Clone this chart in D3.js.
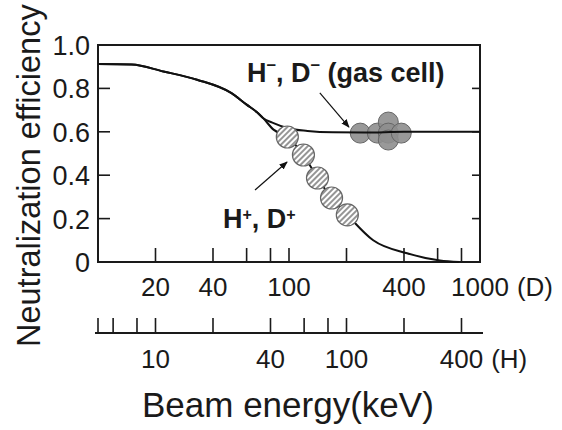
<!DOCTYPE html>
<html><head><meta charset="utf-8">
<script src="https://cdn.jsdelivr.net/npm/d3@7"></script>
<style>
body{margin:0;background:#fff;}
svg{display:block;font-family:"Liberation Sans",Arial,Helvetica,sans-serif;}
</style>
</head><body>
<svg id="c" width="562" height="430"></svg>
<script>
// ---- data ----
const yTicks = [0, 0.2, 0.4, 0.6, 0.8, 1.0];
const yTickLabels = ["0", "0.2", "0.4", "0.6", "0.8", "1.0"];
const dTicks = [20, 40, 60, 80, 100, 200, 400, 600, 800, 1000];
const dLabelValues = [20, 40, 100, 400, 1000];
const dLabels = ["20", "40", "100", "400", "1000"];
const hTicks = [5, 6, 8, 10, 20, 40, 60, 80, 100, 200, 400];
const hLabelValues = [10, 40, 100, 400];
const hLabels = ["10", "40", "100", "400"];

// curves (D energy, keV ; efficiency)
const negEnergy = [10, 15, 22, 33, 50, 60, 68, 73, 83, 100, 125, 170, 250, 400, 1000];
const negEff    = [0.912, 0.91, 0.878, 0.84, 0.778, 0.725, 0.69, 0.664, 0.64, 0.615, 0.604, 0.598, 0.597, 0.6, 0.6];
const posEnergy = [10, 15, 22, 33, 50, 60, 68, 73, 83, 98, 119, 141, 167, 202, 276, 415, 617, 780];
const posEff    = [0.912, 0.91, 0.878, 0.84, 0.778, 0.725, 0.69, 0.664, 0.61, 0.576, 0.493, 0.387, 0.295, 0.217, 0.1, 0.04, 0.007, 0];

// measured points
const gasEnergy = [236, 290, 331, 331, 331, 387];
const gasEff    = [0.594, 0.594, 0.645, 0.594, 0.562, 0.594];
const posPtEnergy = [98, 119, 141, 167, 202];
const posPtEff    = [0.576, 0.493, 0.387, 0.295, 0.217];

// ---- layout ----
const svg = d3.select("#c");
const L = 98, R = 480, T = 45, B = 262, HY = 333;
const x = d3.scaleLog().domain([10, 1000]).range([L, R]);
const xh = d3.scaleLog().domain([5, 500]).range([L, R]);
const y = d3.scaleLinear().domain([0, 1]).range([B, T]);
const ink = "#1a1a1a";

const defs = svg.append("defs");
const pat = defs.append("pattern").attr("id", "hatch").attr("patternUnits", "userSpaceOnUse")
  .attr("width", 4).attr("height", 4).attr("patternTransform", "rotate(45)");
pat.append("rect").attr("width", 4).attr("height", 4).attr("fill", "#fff");
pat.append("line").attr("x1", 1).attr("y1", 0).attr("x2", 1).attr("y2", 4)
  .attr("stroke", "#8a8a8a").attr("stroke-width", 1.8);
defs.append("marker").attr("id", "arr").attr("viewBox", "0 0 10 10").attr("refX", 9).attr("refY", 5)
  .attr("markerWidth", 7).attr("markerHeight", 7).attr("orient", "auto")
  .append("path").attr("d", "M0,1 L10,5 L0,9 Z").attr("fill", "#111");

// frame
svg.append("rect").attr("x", L).attr("y", T).attr("width", R - L).attr("height", B - T)
  .attr("fill", "none").attr("stroke", ink).attr("stroke-width", 2);

// y ticks
svg.append("g").selectAll("line").data(yTicks.slice(1, -1)).join("line")
  .attr("x1", L).attr("x2", L + 12).attr("y1", d => y(d)).attr("y2", d => y(d))
  .attr("stroke", ink).attr("stroke-width", 1.6);
svg.append("g").selectAll("line").data(yTicks.slice(1, -1)).join("line")
  .attr("x1", R).attr("x2", R - 8).attr("y1", d => y(d)).attr("y2", d => y(d))
  .attr("stroke", ink).attr("stroke-width", 1.6);
svg.append("g").selectAll("text").data(yTicks).join("text")
  .attr("x", 90).attr("y", d => y(d) + 10).attr("text-anchor", "end")
  .attr("font-size", 27).attr("fill", ink).text((d, i) => yTickLabels[i]);

// D axis ticks (inside, at bottom)
svg.append("g").selectAll("line").data(dTicks).join("line")
  .attr("x1", d => x(d)).attr("x2", d => x(d)).attr("y1", B).attr("y2", B - 14)
  .attr("stroke", ink).attr("stroke-width", 1.6);
const dl = svg.append("g").selectAll("text").data(dLabelValues).join("text")
  .attr("x", d => x(d)).attr("y", 296).attr("text-anchor", "middle")
  .attr("font-size", 26).attr("fill", ink).text((d, i) => dLabels[i]);
const lastD = dl.filter(d => d === 1000).node().getBBox();
svg.append("text").attr("x", lastD.x + lastD.width + 8).attr("y", 296)
  .attr("font-size", 26).attr("fill", ink).text("(D)");

// H axis
svg.append("line").attr("x1", xh(5) - 3).attr("x2", xh(500) + 3).attr("y1", HY).attr("y2", HY)
  .attr("stroke", ink).attr("stroke-width", 2);
svg.append("g").selectAll("line").data(hTicks).join("line")
  .attr("x1", d => xh(d)).attr("x2", d => xh(d)).attr("y1", HY).attr("y2", HY - 15)
  .attr("stroke", ink).attr("stroke-width", 1.6);
const hl = svg.append("g").selectAll("text").data(hLabelValues).join("text")
  .attr("x", d => xh(d)).attr("y", 368).attr("text-anchor", "middle")
  .attr("font-size", 26).attr("fill", ink).text((d, i) => hLabels[i]);
const lastH = hl.filter(d => d === 400).node().getBBox();
svg.append("text").attr("x", lastH.x + lastH.width + 8).attr("y", 368)
  .attr("font-size", 26).attr("fill", ink).text("(H)");

// titles
svg.append("text").attr("transform", "translate(40,347) rotate(-90)")
  .attr("font-size", 32.5).attr("fill", ink).text("Neutralization efficiency");
svg.append("text").attr("x", 142).attr("y", 417)
  .attr("font-size", 35).attr("fill", ink).text("Beam energy(keV)");

// gas-cell circles (under curve)
svg.append("g").selectAll("circle").data(gasEnergy).join("circle")
  .attr("cx", d => x(d)).attr("cy", (d, i) => y(gasEff[i])).attr("r", 10)
  .attr("fill", "#8e8e8e").attr("fill-opacity", 0.9).attr("stroke", "#666").attr("stroke-width", 1);

// curves
const line = d3.line().x(d => x(d[0])).y(d => y(d[1])).curve(d3.curveMonotoneX);
svg.append("path").datum(negEnergy.map((e, i) => [e, negEff[i]])).attr("d", line)
  .attr("fill", "none").attr("stroke", "#111").attr("stroke-width", 2);
svg.append("path").datum(posEnergy.map((e, i) => [e, posEff[i]])).attr("d", line)
  .attr("fill", "none").attr("stroke", "#111").attr("stroke-width", 2);

// hatched circles
svg.append("g").selectAll("circle").data(posPtEnergy).join("circle")
  .attr("cx", d => x(d)).attr("cy", (d, i) => y(posPtEff[i])).attr("r", 11)
  .attr("fill", "url(#hatch)").attr("stroke", "#666").attr("stroke-width", 1.2);

// arrows
svg.append("line").attr("x1", x(145)).attr("y1", y(0.779)).attr("x2", x(206)).attr("y2", y(0.622))
  .attr("stroke", "#111").attr("stroke-width", 1.2).attr("marker-end", "url(#arr)");
svg.append("line").attr("x1", x(66.4)).attr("y1", y(0.332)).attr("x2", x(97.7)).attr("y2", y(0.461))
  .attr("stroke", "#111").attr("stroke-width", 1.2).attr("marker-end", "url(#arr)");

// annotations
const t1 = svg.append("text").attr("x", 247).attr("y", 82).attr("font-size", 27)
  .attr("font-weight", "bold").attr("fill", ink);
t1.append("tspan").text("H");
t1.append("tspan").attr("font-size", 17).attr("dy", -12).text("–");
t1.append("tspan").attr("dy", 12).text(", D");
t1.append("tspan").attr("font-size", 17).attr("dy", -12).text("–");
t1.append("tspan").attr("dy", 12).text(" (gas cell)");

const t2 = svg.append("text").attr("x", 223).attr("y", 228).attr("font-size", 27)
  .attr("font-weight", "bold").attr("fill", ink);
t2.append("tspan").text("H");
t2.append("tspan").attr("font-size", 16).attr("dy", -8).text("+");
t2.append("tspan").attr("dy", 8).text(", D");
t2.append("tspan").attr("font-size", 16).attr("dy", -8).text("+");
</script>
</body></html>
